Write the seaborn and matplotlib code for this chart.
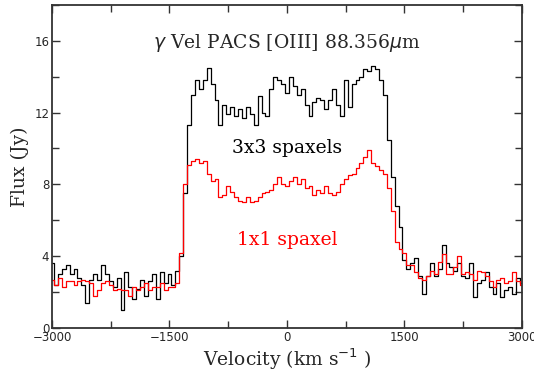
import numpy as np
import pandas as pd
import matplotlib
matplotlib.use("Agg")
import matplotlib.pyplot as plt
from matplotlib.ticker import MultipleLocator
import seaborn as sns

# velocity grid (km/s) and fluxes
velocity = list(range(-3000, 3001, 50))

flux_3x3 = [3.6, 2.4, 3.0, 3.3, 3.5, 3.0, 3.3, 2.8, 2.4, 1.4,
            2.7, 3.0, 2.7, 3.5, 3.0, 2.6, 2.3, 2.8, 1.0, 3.1,
            2.3, 1.6, 2.2, 2.7, 1.8, 2.6, 3.0, 1.6, 3.1, 2.5,
            3.0, 2.4, 3.2, 4.0, 7.5, 11.3, 13.0, 13.8, 13.3, 13.8,
            14.5, 13.6, 12.7, 11.3, 12.4, 11.9, 12.3, 11.8, 12.2, 11.7,
            12.3, 11.9, 11.3, 12.9, 12.0, 11.8, 13.3, 14.0, 13.8, 13.6,
            13.1, 14.0, 13.5, 13.0, 13.3, 12.4, 11.8, 12.6, 12.8, 12.7,
            12.2, 12.7, 13.3, 12.4, 11.8, 13.8, 12.3, 13.6, 13.8, 14.0,
            14.4, 14.3, 14.6, 14.4, 13.8, 13.0, 10.5, 8.4, 6.8, 5.6,
            3.8, 3.3, 3.6, 3.9, 2.9, 1.9, 2.9, 3.6, 2.9, 3.3,
            4.6, 3.6, 3.4, 3.2, 3.6, 2.9, 2.8, 3.6, 1.7, 2.5,
            2.7, 3.1, 2.3, 1.9, 2.5, 1.7, 2.1, 2.3, 1.9, 2.8,
            2.5]

flux_1x1 = [2.7, 2.4, 2.8, 2.3, 2.6, 2.6, 2.4, 2.6, 2.7, 2.6,
            2.5, 1.8, 2.1, 2.5, 2.6, 2.4, 2.1, 2.2, 2.1, 2.1,
            1.8, 2.3, 2.1, 2.3, 2.5, 2.1, 2.3, 2.3, 2.5, 2.1,
            2.3, 2.3, 2.5, 4.2, 8.0, 9.1, 9.3, 9.4, 9.2, 9.3,
            8.6, 8.2, 8.3, 7.3, 7.4, 7.9, 7.6, 7.3, 7.1, 7.0,
            7.3, 7.0, 7.1, 7.3, 7.5, 7.6, 7.7, 8.0, 8.4, 8.0,
            7.9, 8.2, 8.4, 8.0, 8.3, 7.8, 7.9, 7.4, 7.7, 7.5,
            7.9, 7.5, 7.4, 7.6, 8.0, 8.3, 8.5, 8.6, 8.9, 9.2,
            9.5, 9.9, 9.2, 9.0, 8.8, 8.6, 7.8, 6.5, 4.8, 4.4,
            4.2, 3.5, 3.5, 3.1, 2.8, 2.7, 2.9, 3.2, 3.0, 3.7,
            4.1, 3.0, 3.0, 3.4, 4.0, 3.0, 3.1, 3.0, 2.7, 3.2,
            3.1, 2.9, 2.6, 2.3, 2.7, 2.8, 2.5, 2.6, 3.1, 2.6,
            2.4]

df = pd.DataFrame({"velocity": velocity, "f3x3": flux_3x3, "f1x1": flux_1x1})

sns.set_style("ticks")
plt.rcParams["font.family"] = ["DejaVu Serif"]

fig = plt.figure(figsize=(5.34, 3.74), dpi=100)
ax = fig.add_axes([0.0974, 0.123, 0.880, 0.864])

sns.lineplot(data=df, x="velocity", y="f3x3", color="black", lw=0.9,
             drawstyle="steps-mid", ax=ax)
sns.lineplot(data=df, x="velocity", y="f1x1", color="red", lw=0.9,
             drawstyle="steps-mid", ax=ax)

ax.set_xlim(-3000, 3000)
ax.set_ylim(0, 18)
ax.xaxis.set_major_locator(MultipleLocator(1500))
ax.xaxis.set_minor_locator(MultipleLocator(750))
ax.yaxis.set_major_locator(MultipleLocator(4))
ax.yaxis.set_minor_locator(MultipleLocator(2))
ax.tick_params(which="both", direction="in", top=True, right=True,
               color="#333333", width=1.0, pad=2)
ax.tick_params(which="major", length=6)
ax.tick_params(which="minor", length=5)
for lab in ax.get_xticklabels() + ax.get_yticklabels():
    lab.set_family("DejaVu Sans")
    lab.set_fontsize(8.5)
for s in ax.spines.values():
    s.set_linewidth(1.3)
    s.set_color("#333333")

ax.set_xlabel("Velocity (km s$^{-1}$ )", fontsize=13.5, labelpad=2)
ax.set_ylabel("Flux (Jy)", fontsize=13.5, labelpad=4)

ax.text(0, 15.9, r"$\gamma$ Vel PACS [OIII] 88.356$\mu$m", ha="center",
        va="center", fontsize=13.5)
ax.text(0, 10.0, "3x3 spaxels", ha="center", va="center", fontsize=13.5,
        color="black")
ax.text(0, 4.9, "1x1 spaxel", ha="center", va="center", fontsize=13.5,
        color="red")

fig.savefig("out.png", dpi=100)
